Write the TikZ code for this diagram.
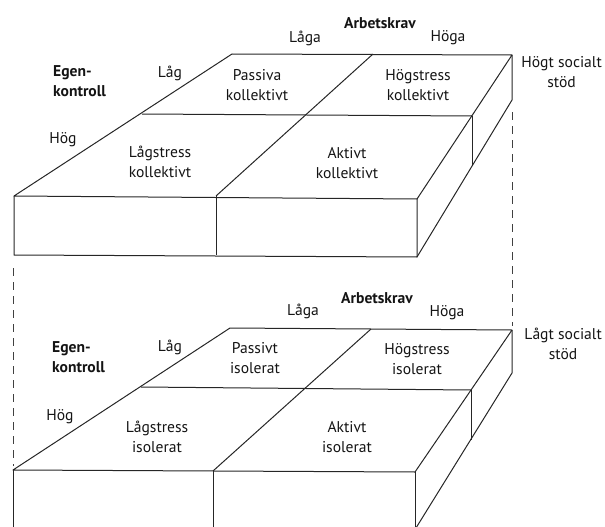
\documentclass[tikz,border=0pt]{standalone}
\usepackage{fontspec}
\setmainfont{PT Sans}
\begin{document}
\begin{tikzpicture}[x=1pt,y=-1pt,
  edge/.style={draw=black!85,line width=1pt,line join=round},
  dashlink/.style={draw=black!75,line width=0.9pt,dash pattern=on 8pt off 6pt},
  lbl/.style={font=\fontsize{15.6}{19.5}\selectfont,text=black!92,inner sep=0pt,align=center},
  bold/.style={lbl,font=\fontsize{15.6}{19.5}\selectfont\bfseries}]
\useasboundingbox (0,0) rectangle (605,527);
\clip (0,0) rectangle (605,527);
% ---------- top box ----------
\coordinate (TBL) at (232,54);
\coordinate (TBM) at (373,54);
\coordinate (TBR) at (512,55);
\coordinate (TML) at (142,114);
\coordinate (TMR) at (472,116);
\coordinate (TFL) at (14,196);
\coordinate (TFM) at (216,196);
\coordinate (TFR) at (417,199);
\coordinate (TGL) at (14,255);
\coordinate (TGM) at (216,255);
\coordinate (TGR) at (417,257);
\coordinate (TRB) at (512,100);
\coordinate (TIV) at (472,166);
\draw[edge] (TFL) -- (TBL) -- (TBR) -- (TFR) -- cycle;
\draw[edge] (TML) -- (TMR);
\draw[edge] (TFM) -- (TBM);
\draw[edge] (TFL) -- (TGL) -- (TGR) -- (TFR);
\draw[edge] (TFM) -- (TGM);
\draw[edge] (TBR) -- (TRB) -- (TGR);
\draw[edge] (TMR) -- (TIV);
% ---------- bottom box ----------
\coordinate (BBL) at (230,328);
\coordinate (BBM) at (371,329);
\coordinate (BBR) at (512,330);
\coordinate (BML) at (141,387);
\coordinate (BMR) at (471,390);
\coordinate (BFL) at (13,470);
\coordinate (BFM) at (213,471);
\coordinate (BFR) at (415,472);
\coordinate (BGL) at (13,535);
\coordinate (BGM) at (213,535);
\coordinate (BGR) at (415,535);
\coordinate (BRB) at (512,373);
\coordinate (BRE) at (411,536);
\coordinate (BIV) at (471,440);
\draw[edge] (BFL) -- (BBL) -- (BBR) -- (BFR) -- cycle;
\draw[edge] (BML) -- (BMR);
\draw[edge] (BFM) -- (BBM);
\draw[edge] (BFL) -- (BGL);
\draw[edge] (BFM) -- (BGM);
\draw[edge] (BFR) -- (BGR);
\draw[edge] (BBR) -- (BRB) -- (BRE);
\draw[edge] (BMR) -- (BIV);
% ---------- dashed links ----------
\coordinate (DL1) at (13,268);
\coordinate (DL2) at (13,466);
\coordinate (DR1) at (512,112);
\coordinate (DR2) at (512,326);
\draw[dashlink] (DL1) -- (DL2);
\draw[dashlink] (DR1) -- (DR2);
% ---------- top labels ----------
\node[bold] (tak) at (380,23) {Arbetskrav};
\node[lbl] (tlaga) at (305,38) {Låga};
\node[lbl] (thoga) at (448,38) {Höga};
\node[lbl,anchor=east] (tsoc) at (602,72) {Högt socialt\\stöd};
\node[bold,align=left,anchor=west] (tek) at (53,81) {Egen-\\kontroll};
\node[lbl] (tlag) at (170,73) {Låg};
\node[lbl] (thog) at (63,140) {Hög};
\node[lbl] (tpk) at (257,85) {Passiva\\kollektivt};
\node[lbl] (tlk) at (160,162) {Lågstress\\kollektivt};
\node[lbl] (thk) at (418,85) {Högstress\\kollektivt};
\node[lbl] (tak2) at (347,163) {Aktivt\\kollektivt};
% ---------- bottom labels ----------
\node[bold] (bak) at (377,298) {Arbetskrav};
\node[lbl] (blaga) at (303,311) {Låga};
\node[lbl] (bhoga) at (447,313) {Höga};
\node[lbl,anchor=east] (bsoc) at (602,344) {Lågt socialt\\stöd};
\node[bold,align=left,anchor=west] (bek) at (52,357) {Egen-\\kontroll};
\node[lbl] (blag) at (170,347) {Låg};
\node[lbl] (bhog) at (60,417) {Hög};
\node[lbl] (bpi) at (255,358) {Passivt\\isolerat};
\node[lbl] (bli) at (157,437) {Lågstress\\isolerat};
\node[lbl] (bhi) at (417,359) {Högstress\\isolerat};
\node[lbl] (bai) at (347,437) {Aktivt\\isolerat};
\end{tikzpicture}
\end{document}
